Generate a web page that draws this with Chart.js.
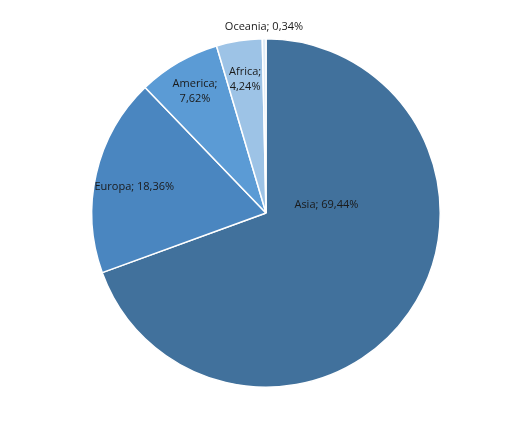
<!DOCTYPE html>
<html>
<head>
<meta charset="utf-8">
<script src="https://cdn.jsdelivr.net/npm/chart.js@4"></script>
<style>
  html, body { margin: 0; padding: 0; background: #fff; }
  #wrap { width: 524px; height: 429px; }
</style>
</head>
<body>
<div id="wrap"><canvas id="pie"></canvas></div>
<script>
const regions = ['Asia', 'Europa', 'America', 'Africa', 'Oceania'];
const shares = [69.44, 18.36, 7.62, 4.24, 0.34];
const sliceColors = ['#41719c', '#4a86c0', '#5b9bd5', '#9dc3e6', '#deebf7'];

// where each label sits: [angle offset in degrees, fraction of radius]
const labelSpots = [[-43, 0.35], [-2, 0.77], [0, 0.81], [0, 0.78], [0, 1.07]];

const fmt = (v) => v.toFixed(2).replace('.', ',') + '%';

const labelPlugin = {
  id: 'sliceLabels',
  afterDatasetsDraw(chart) {
    const ctx = chart.ctx;
    const arcs = chart.getDatasetMeta(0).data;
    ctx.save();
    ctx.font = '11px "Open Sans", sans-serif';
    ctx.fillStyle = '#1a1a1a';
    ctx.textAlign = 'center';
    ctx.textBaseline = 'middle';
    arcs.forEach((arc, i) => {
      const mid = (arc.startAngle + arc.endAngle) / 2 + labelSpots[i][0] * Math.PI / 180;
      const r = arc.outerRadius * labelSpots[i][1];
      const x = arc.x + Math.cos(mid) * r;
      const y = arc.y + Math.sin(mid) * r;
      // small slices get their label split over two lines
      if (i === 2 || i === 3) {
        ctx.fillText(regions[i] + ';', x, y - 7);
        ctx.fillText(fmt(shares[i]), x, y + 8);
      } else {
        ctx.fillText(regions[i] + '; ' + fmt(shares[i]), x, y);
      }
    });
    ctx.restore();
  }
};

new Chart(document.getElementById('pie'), {
  type: 'pie',
  data: {
    labels: regions,
    datasets: [{
      data: shares,
      backgroundColor: sliceColors,
      borderColor: '#ffffff',
      borderWidth: 1.5
    }]
  },
  options: {
    responsive: true,
    maintainAspectRatio: false,
    animation: false,
    layout: { padding: { top: 38, bottom: 41, left: 8, right: 0 } },
    plugins: { legend: { display: false }, tooltip: { enabled: false } }
  },
  plugins: [labelPlugin]
});
</script>
</body>
</html>
